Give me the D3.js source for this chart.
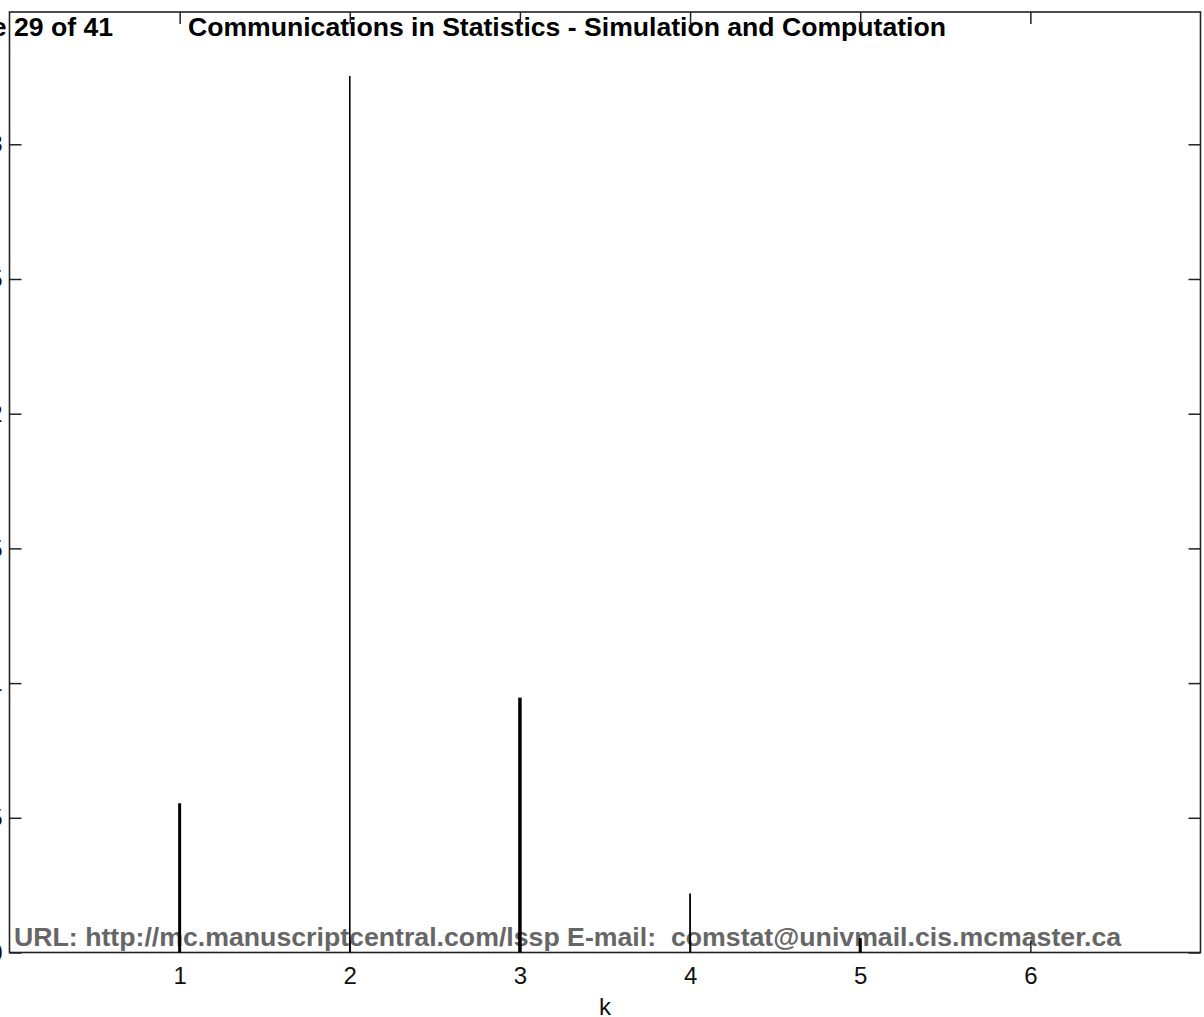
<!DOCTYPE html>
<html>
<head>
<meta charset="utf-8">
<script src="https://cdn.jsdelivr.net/npm/d3@7"></script>
<style>
  html, body { margin: 0; padding: 0; background: #fff; }
  svg { display: block; }
</style>
</head>
<body>
<div id="chart"></div>
<script>
// ---- data ----
const kValues = [1, 2, 3, 4, 5, 6];
const stemValues = [0.0554, 0.3253, 0.0946, 0.0219, 0.0054, 0.0];
const stemWidths = [3, 1.6, 3.5, 1.8, 3, 1.6];
const xTicks = [1, 2, 3, 4, 5, 6];
const xTickLabels = ["1", "2", "3", "4", "5", "6"];
const yTicks = [0, 0.05, 0.1, 0.15, 0.2, 0.25, 0.3];
const yTickLabels = ["0", "0.05", "0.1", "0.15", "0.2", "0.25", "0.3"];
const xDomain = [0, 7];
const yDomain = [0, 0.3491];
const xLabel = "k";
const headerLeft = "Page 29 of 41";
const headerTitle = "Communications in Statistics - Simulation and Computation";
const footerText = "URL: http://mc.manuscriptcentral.com/lssp E-mail:  comstat@univmail.cis.mcmaster.ca";

// ---- layout ----
const W = 1204, H = 1017;
const plot = { left: 9.5, right: 1200.5, top: 12, bottom: 952.5 };

const svg = d3.select("#chart").append("svg")
  .attr("width", W).attr("height", H);

svg.append("rect").attr("width", W).attr("height", H).attr("fill", "#fff");

// overlay texts (drawn beneath the chart, as in the reference)
const boldFont = "'Liberation Sans', Arial, Helvetica, sans-serif";
svg.append("text")
  .attr("x", 113).attr("y", 35.5)
  .attr("text-anchor", "end")
  .attr("font-family", boldFont).attr("font-weight", "bold")
  .attr("font-size", 26.6).attr("fill", "#000")
  .text(headerLeft);
svg.append("text")
  .attr("x", 188).attr("y", 35.5)
  .attr("font-family", boldFont).attr("font-weight", "bold")
  .attr("font-size", 26.6).attr("fill", "#000")
  .text(headerTitle);
svg.append("text")
  .attr("x", 14).attr("y", 945.5)
  .attr("font-family", boldFont).attr("font-weight", "bold")
  .attr("font-size", 26.7).attr("fill", "#666")
  .style("white-space", "pre")
  .attr("xml:space", "preserve")
  .text(footerText);

// ---- scales ----
const x = d3.scaleLinear().domain(xDomain).range([plot.left, plot.right]);
const y = d3.scaleLinear().domain(yDomain).range([plot.bottom, plot.top]);

const axisColor = "#222";
const tickFont = "'Liberation Sans', Arial, sans-serif";

function styleAxis(g) {
  g.select(".domain").remove();
  g.selectAll(".tick line").attr("stroke", axisColor).attr("stroke-width", 1.5);
  g.selectAll(".tick text").attr("fill", "#111")
    .attr("font-family", tickFont).attr("font-size", 24);
}

// bottom axis
svg.append("g")
  .attr("transform", `translate(0,${plot.bottom})`)
  .call(d3.axisBottom(x).tickValues(xTicks)
    .tickFormat((d, i) => xTickLabels[i])
    .tickSize(-12).tickPadding(14))
  .call(styleAxis);

// top axis
svg.append("g")
  .attr("transform", `translate(0,${plot.top})`)
  .call(d3.axisTop(x).tickValues(xTicks).tickFormat("").tickSize(-12))
  .call(styleAxis);

// left axis (labels fall off the page edge as in the reference)
svg.append("g")
  .attr("transform", `translate(${plot.left},0)`)
  .call(d3.axisLeft(y).tickValues(yTicks)
    .tickFormat((d, i) => yTickLabels[i])
    .tickSize(-12).tickPadding(7))
  .call(styleAxis);

// right axis
svg.append("g")
  .attr("transform", `translate(${plot.right},0)`)
  .call(d3.axisRight(y).tickValues(yTicks).tickFormat("").tickSize(-12))
  .call(styleAxis);

// frame
svg.append("rect")
  .attr("x", plot.left).attr("y", plot.top)
  .attr("width", plot.right - plot.left)
  .attr("height", plot.bottom - plot.top)
  .attr("fill", "none").attr("stroke", axisColor).attr("stroke-width", 1.6);

// stems
svg.append("g").selectAll("line")
  .data(kValues.map((k, i) => ({ k, v: stemValues[i], w: stemWidths[i] })).filter(d => d.v > 0))
  .join("line")
  .attr("x1", d => x(d.k)).attr("x2", d => x(d.k))
  .attr("y1", y(0)).attr("y2", d => y(d.v))
  .attr("stroke", "#000").attr("stroke-width", d => d.w);

// x label
svg.append("text")
  .attr("x", x(3.5)).attr("y", 1015)
  .attr("text-anchor", "middle")
  .attr("font-family", tickFont).attr("font-size", 24).attr("fill", "#111")
  .text(xLabel);
</script>
</body>
</html>
